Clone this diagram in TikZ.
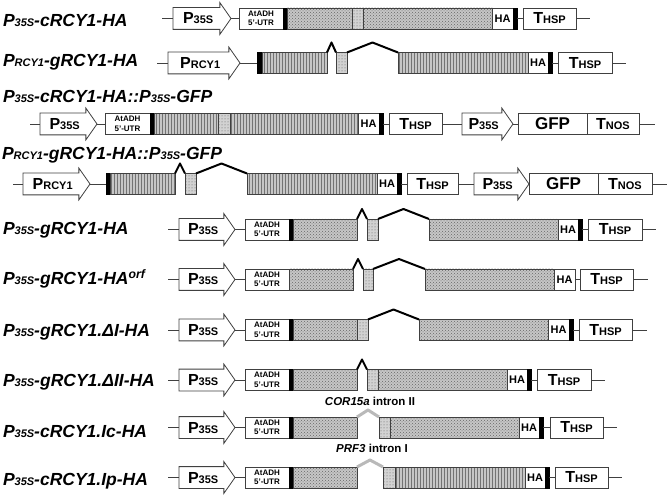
\documentclass[tikz,border=0pt]{standalone}
\usepackage{fontspec}
\setmainfont{Liberation Sans}
\usetikzlibrary{calc,
    patterns,
    shapes.arrows}

\newcommand{\lo}[1]{{\fontsize{11}{11}\selectfont #1}}

\begin{document}
\begin{tikzpicture}[x=1pt, y=-1pt,
                  every node/.style = {inner sep=0pt, outer sep=0pt},
                  con/.style = {draw=black!75, line width=0.8pt},
                  box/.style = {draw=black!75, line width=0.8pt, anchor=west, minimum height=21},
                  wbox/.style = {box, fill=white, font=\fontsize{16}{16}\selectfont\bfseries},
                  ha/.style = {wbox, minimum width=20, font=\fontsize{11}{11}\selectfont\bfseries},
                  utr/.style = {wbox, minimum width=44, align=center, font=\fontsize{8}{9.5}\selectfont\bfseries},
                  gfp/.style = {wbox, font=\fontsize{17}{17}\selectfont\bfseries},
                  exA/.style = {box, preaction={fill=gray!45}, pattern=crosshatch dots, pattern color=black!60},
                  exB/.style = {box, preaction={fill=gray!45}, pattern=vertical lines, pattern color=black!55},
                  exC/.style = {box, preaction={fill=gray!35}, pattern=dots, pattern color=black!65},
                  bar/.style = {draw=black, fill=black, line width=0.8pt, anchor=west, minimum width=4, minimum height=21},
                  prom/.style = {single arrow, draw=black!75, line width=0.8pt, fill=white, anchor=tail,
                                 single arrow head extend=5pt, single arrow tip angle=110,
                                 text height=16pt, text depth=5pt, font=\fontsize{16}{16}\selectfont\bfseries},
                  lab/.style = {anchor=base west, font=\fontsize{17.5}{17.5}\selectfont\bfseries\itshape},
                  note/.style = {font=\fontsize{11.5}{11.5}\selectfont\bfseries},
                  intr/.style = {draw=black, line width=2pt, line join=round,
                                 to path={-- ($(\tikztostart)!.5!(\tikztotarget)+(0,-#1)$) -- (\tikztotarget)}},
                  intr/.default = 10,
                  gintr/.style = {intr=7, draw=gray!55, line width=3pt}
                  ]
\useasboundingbox (0,0) rectangle (670,497);
% row 1
\node[lab] (l1) at (3,27) {P\lo{35S}-cRCY1-HA};
\coordinate (s1) at (162,18.5);
\node[prom, minimum height=58] (p1) at (173,18.5) {P\lo{35S}};
\node[utr] (u1) at (239,18.5) {AtADH\\5'-UTR};
\node[bar] (b1) at (283,18.5) {};
\node[exA, minimum width=65] (e11) at (287,18.5) {};
\node[exC, minimum width=11] (e12) at (352,18.5) {};
\node[exA, minimum width=129] (e13) at (363,18.5) {};
\node[ha, minimum width=21] (h1) at (492,18.5) {HA};
\node[bar] (k1) at (513,18.5) {};
\node[wbox, minimum width=53] (t1) at (523,18.5) {T\lo{HSP}};
\coordinate (z1) at (590,18.5);
\draw[con] (s1) -- (p1.tail) (p1.tip) -- (u1) (k1) -- (t1) (t1) -- (z1);
% row 2
\node[lab] (l2) at (3,67) {P\lo{RCY1}-gRCY1-HA};
\coordinate (s2) at (157,63);
\node[prom, minimum height=72] (p2) at (168,63) {P\lo{RCY1}};
\node[bar] (b2) at (257,63) {};
\node[exB, minimum width=65] (e21) at (262,63) {};
\node[exC, minimum width=11] (e22) at (336,63) {};
\node[exB, minimum width=130] (e23) at (398,63) {};
\node[ha] (h2) at (528,63) {HA};
\node[bar] (k2) at (548,63) {};
\node[wbox, minimum width=54] (t2) at (558,63) {T\lo{HSP}};
\coordinate (z2) at (626,63);
\draw[con] (s2) -- (p2.tail) (p2.tip) -- (b2) (k2) -- (t2) (t2) -- (z2);
\draw[intr] (e21.north east) to (e22.north west);
\draw[intr] (e22.north east) to (e23.north west);
% row 3
\node[lab] (l3) at (3,103) {P\lo{35S}-cRCY1-HA::P\lo{35S}-GFP};
\coordinate (s3) at (30,124);
\node[prom, minimum height=57] (p3) at (40,124) {P\lo{35S}};
\node[utr, minimum width=45] (u3) at (105,124) {AtADH\\5'-UTR};
\node[bar] (b3) at (150,124) {};
\node[exB, minimum width=64] (e31) at (154,124) {};
\node[exC, minimum width=12] (e32) at (218,124) {};
\node[exB, minimum width=128] (e33) at (230,124) {};
\node[ha, minimum width=21] (h3) at (358,124) {HA};
\node[bar] (k3) at (379,124) {};
\node[wbox, minimum width=53] (t3) at (389,124) {T\lo{HSP}};
\node[prom, minimum height=51] (q3) at (462,124) {P\lo{35S}};
\node[gfp, minimum width=69] (g3) at (518,124) {GFP};
\node[wbox, minimum width=52] (n3) at (587,124) {T\lo{NOS}};
\coordinate (z3) at (655,124);
\draw[con] (s3) -- (p3.tail) (p3.tip) -- (u3) (k3) -- (t3) (t3) -- (q3.tail) (q3.tip) -- (g3) (n3) -- (z3);
% row 4
\node[lab] (l4) at (2,160) {P\lo{RCY1}-gRCY1-HA::P\lo{35S}-GFP};
\coordinate (s4) at (13,184);
\node[prom, minimum height=67] (p4) at (23,184) {P\lo{RCY1}};
\node[bar] (b4) at (106,184) {};
\node[exB, minimum width=65] (e41) at (110,184) {};
\node[exC, minimum width=11] (e42) at (185,184) {};
\node[exB, minimum width=130] (e43) at (247,184) {};
\node[ha] (h4) at (377,184) {HA};
\node[bar] (k4) at (397,184) {};
\node[wbox, minimum width=51] (t4) at (407,184) {T\lo{HSP}};
\node[prom, minimum height=55] (q4) at (474,184) {P\lo{35S}};
\node[gfp, minimum width=69] (g4) at (529,184) {GFP};
\node[wbox, minimum width=54] (n4) at (598,184) {T\lo{NOS}};
\coordinate (z4) at (667,184);
\draw[con] (s4) -- (p4.tail) (p4.tip) -- (b4) (k4) -- (t4) (t4) -- (q4.tail) (n4) -- (z4);
\draw[intr] (e41.north east) to (e42.north west);
\draw[intr] (e42.north east) to (e43.north west);
% rows 5-10: P35S + AtADH leader
\foreach \y [count=\r from 5] in {229.5, 279.5, 330, 380, 427.5, 477.5} {
    \coordinate (s\r) at (168,\y);
    \node[prom, minimum height=56] (p\r) at (179,\y) {P\lo{35S}};
    \node[utr] (u\r) at (245,\y) {AtADH\\5'-UTR};
    \draw[con] (s\r) -- (p\r.tail) (p\r.tip) -- (u\r);
}
% row 5
\node[lab] (l5) at (3,235) {P\lo{35S}-gRCY1-HA};
\node[bar] (b5) at (289,229.5) {};
\node[exA, minimum width=64] (e51) at (293,229.5) {};
\node[exC, minimum width=11] (e52) at (367,229.5) {};
\node[exA, minimum width=129] (e53) at (429,229.5) {};
\node[ha] (h5) at (558,229.5) {HA};
\node[bar] (k5) at (578,229.5) {};
\node[wbox, minimum width=54] (t5) at (588,229.5) {T\lo{HSP}};
\coordinate (z5) at (656,229.5);
\draw[con] (k5) -- (t5) (t5) -- (z5);
\draw[intr] (e51.north east) to (e52.north west);
\draw[intr] (e52.north east) to (e53.north west);
% row 6
\node[lab] (l6) at (3,285) {P\lo{35S}-gRCY1-HA\textsuperscript{orf}};
\node[exA, minimum width=64] (e61) at (289,279.5) {};
\node[exC, minimum width=10] (e62) at (363,279.5) {};
\node[exA, minimum width=129] (e63) at (425,279.5) {};
\node[ha, minimum width=21] (h6) at (554,279.5) {HA};
\node[wbox, minimum width=53] (t6) at (580,279.5) {T\lo{HSP}};
\coordinate (z6) at (648,279.5);
\draw[con] (h6) -- (t6) (t6) -- (z6);
\draw[intr] (e61.north east) to (e62.north west);
\draw[intr] (e62.north east) to (e63.north west);
% row 7
\node[lab] (l7) at (3,337) {P\lo{35S}-gRCY1.ΔI-HA};
\node[bar] (b7) at (289,330) {};
\node[exA, minimum width=64] (e71) at (293,330) {};
\node[exC, minimum width=11] (e72) at (357,330) {};
\node[exA, minimum width=129] (e73) at (419,330) {};
\node[ha, minimum width=21] (h7) at (548,330) {HA};
\node[bar] (k7) at (569,330) {};
\node[wbox, minimum width=53] (t7) at (579,330) {T\lo{HSP}};
\coordinate (z7) at (647,330);
\draw[con] (k7) -- (t7) (t7) -- (z7);
\draw[intr] (e72.north east) to (e73.north west);
% row 8
\node[lab] (l8) at (3,386) {P\lo{35S}-gRCY1.ΔII-HA};
\node[bar] (b8) at (289,380) {};
\node[exA, minimum width=64] (e81) at (293,380) {};
\node[exC, minimum width=11] (e82) at (367,380) {};
\node[exA, minimum width=129] (e83) at (378,380) {};
\node[ha] (h8) at (507,380) {HA};
\node[bar] (k8) at (527,380) {};
\node[wbox, minimum width=54] (t8) at (537,380) {T\lo{HSP}};
\coordinate (z8) at (605,380);
\draw[con] (k8) -- (t8) (t8) -- (z8);
\draw[intr] (e81.north east) to (e82.north west);
\node[note] (n8) at (370,401) {\textit{COR15a} intron II};
% row 9
\node[lab] (l9) at (3,437) {P\lo{35S}-cRCY1.Ic-HA};
\node[bar] (b9) at (289,427.5) {};
\node[exA, minimum width=64] (e91) at (293,427.5) {};
\node[exC, minimum width=11] (e92) at (379,427.5) {};
\node[exA, minimum width=129] (e93) at (390,427.5) {};
\node[ha] (h9) at (519,427.5) {HA};
\node[bar] (k9) at (539,427.5) {};
\node[wbox, minimum width=53] (t9) at (550,427.5) {T\lo{HSP}};
\coordinate (z9) at (617,427.5);
\draw[con] (k9) -- (t9) (t9) -- (z9);
\draw[gintr] (e91.north east) to (e92.north west);
\node[note] (n9) at (372,448) {\textit{PRF3} intron I};
% row 10
\node[lab] (l10) at (3,485) {P\lo{35S}-cRCY1.Ip-HA};
\node[bar] (b10) at (289,477.5) {};
\node[exA, minimum width=64] (e101) at (293,477.5) {};
\node[exC, minimum width=12] (e102) at (383,477.5) {};
\node[exB, minimum width=130] (e103) at (395,477.5) {};
\node[ha] (h10) at (525,477.5) {HA};
\node[bar] (k10) at (545,477.5) {};
\node[wbox, minimum width=53] (t10) at (555,477.5) {T\lo{HSP}};
\coordinate (z10) at (622,477.5);
\draw[con] (k10) -- (t10) (t10) -- (z10);
\draw[gintr] (e101.north east) to (e102.north west);
\end{tikzpicture}
\end{document}
